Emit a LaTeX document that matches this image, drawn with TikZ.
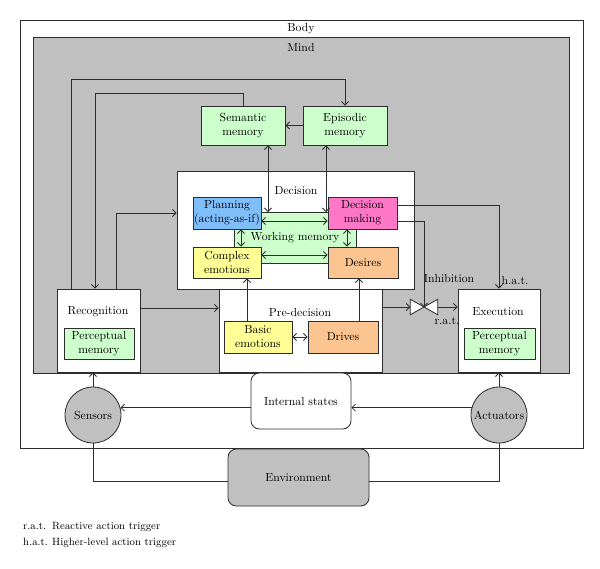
\documentclass[tikz,border=0pt]{standalone}
\usepackage{tikz}
\usetikzlibrary{arrows.meta,positioning,shapes,calc}
\definecolor{mindgray}{RGB}{192,192,192}
\definecolor{memgreen}{RGB}{204,255,204}
\definecolor{planblue}{RGB}{128,190,250}
\definecolor{makepink}{RGB}{255,120,200}
\definecolor{emoyellow}{RGB}{255,255,150}
\definecolor{driveorange}{RGB}{252,196,145}
\definecolor{edgegray}{RGB}{45,45,45}

\begin{document}
\begin{tikzpicture}[x=0.03cm, y=-0.03cm,
            >={Straight Barb[length=3pt,width=6pt]},
            box/.style={rectangle, draw=edgegray, line width=0.7pt, align=center, inner sep=1pt},
            mem/.style={box, fill=memgreen},
            wire/.style={draw=edgegray, line width=0.7pt}]
            \useasboundingbox (0,0) rectangle (600,568);
            \node[box, fill=white, minimum width=16.89cm, minimum height=12.84cm] (body) at (301.5,234) {};
            \node[box, fill=mindgray, minimum width=16.08cm, minimum height=10.08cm] (mind) at (301,205) {};
            \node (bodylbl) at (301,29) {Body};
            \node (mindlbl) at (301,48) {Mind};
            \node[mem, minimum width=2.52cm, minimum height=1.17cm] (semantic) at (243,125.5) {Semantic\\memory};
            \node[mem, minimum width=2.52cm, minimum height=1.17cm] (episodic) at (345,125.5) {Episodic\\memory};
            \node[box, fill=white, minimum width=7.11cm, minimum height=3.54cm] (decision) at (295.5,230) {};
            \node (decisionlbl) at (296,191) {Decision};
            \node[mem, minimum width=3.66cm, minimum height=1.53cm] (wm) at (295,238) {Working memory};
            \node[box, fill=planblue, minimum width=2.04cm, minimum height=0.96cm] (planning) at (227,213) {Planning\\(acting-as-if)};
            \node[box, fill=makepink, minimum width=2.07cm, minimum height=0.96cm] (decmaking) at (362.5,213) {Decision\\making};
            \node[box, fill=emoyellow, minimum width=2.04cm, minimum height=0.93cm] (complex) at (227,262.5) {Complex\\emotions};
            \node[box, fill=driveorange, minimum width=2.1cm, minimum height=0.93cm] (desires) at (363,262.5) {Desires};
            \node[box, fill=white, minimum width=4.89cm, minimum height=2.49cm] (predecision) at (300.5,330.5) {};
            \node (predecisionlbl) at (300,312) {Pre-decision};
            \node[box, fill=emoyellow, minimum width=2.04cm, minimum height=0.96cm] (basic) at (258,337) {Basic\\emotions};
            \node[box, fill=driveorange, minimum width=2.1cm, minimum height=0.96cm] (drives) at (343,337) {Drives};
            \node[box, fill=white, minimum width=2.49cm, minimum height=2.49cm] (recognition) at (98.5,330.5) {};
            \node (recognitionlbl) at (98,312) {Recognition};
            \node[mem, minimum width=2.1cm, minimum height=0.93cm] (percrec) at (99,343.5) {Perceptual\\memory};
            \node[box, fill=white, minimum width=2.46cm, minimum height=2.49cm] (execution) at (499,330.5) {};
            \node (executionlbl) at (498,312) {Execution};
            \node[mem, minimum width=2.13cm, minimum height=0.93cm] (percexe) at (499.5,343.5) {Perceptual\\memory};
            \node[minimum width=0.81cm, minimum height=0.45cm, inner sep=0pt] (valve) at (424,307) {};
            \draw[wire, fill=white] (valve.north west) -- (valve.south east) -- (valve.north east) -- (valve.south west) -- cycle;
            \node (inhibitionlbl) at (449,278) {Inhibition};
            \node (hatlbl) at (515,280) {h.a.t.};
            \node (ratlbl) at (447,321) {r.a.t.};
            \node[box, fill=white, rounded corners=0.25cm, minimum width=3cm, minimum height=1.68cm] (internal) at (301,401) {Internal states};
            \node[circle, draw=edgegray, line width=0.7pt, fill=mindgray, minimum size=1.68cm, inner sep=0pt] (sensors) at (93,415) {Sensors};
            \node[circle, draw=edgegray, line width=0.7pt, fill=mindgray, minimum size=1.68cm, inner sep=0pt] (actuators) at (499,415) {Actuators};
            \node[box, fill=mindgray, rounded corners=0.25cm, minimum width=4.23cm, minimum height=1.71cm] (environment) at (298.5,477.5) {Environment};
            \draw[wire,->] (71,0 |- recognition.north) -- (71,79) -| (episodic.north);
            \draw[wire,->] (semantic.north) |- (95,93) -- (95,0 |- recognition.north);
            \draw[wire,->] (116,0 |- recognition.north) |- (decision.west |- 0,213);
            \draw[wire,->] (episodic.west) -- (semantic.east);
            \draw[wire,<->] (268,0 |- semantic.south) -- (268,0 |- wm.north);
            \draw[wire,<->] (326,0 |- episodic.south) -- (326,0 |- wm.north);
            \draw[wire,<->] (planning.east |- 0,221) -- (decmaking.west |- 0,221);
            \draw[wire,<->] (complex.east |- 0,255) -- (desires.west |- 0,255);
            \draw[wire,<->] (241,0 |- planning.south) -- (241,0 |- complex.north);
            \draw[wire,<->] (347,0 |- decmaking.south) -- (347,0 |- desires.north);
            \draw[wire,->] (recognition.east |- 0,308) -- (predecision.west |- 0,308);
            \draw[wire,->] (247,0 |- basic.north) -- (247,0 |- complex.south);
            \draw[wire,->] (359,0 |- drives.north) -- (359,0 |- desires.south);
            \draw[wire,<->] (basic.east) -- (drives.west);
            \draw[wire,->] (decmaking.east |- 0,205) -| (execution.north);
            \draw[wire,->] (decmaking.east |- 0,221) -| (valve.center);
            \draw[wire,->] (predecision.east |- valve) -- (valve.west);
            \draw[wire,->] (valve.east) -- (execution.west |- valve);
            \draw[wire,->] (sensors.north) -- (recognition.south -| sensors.north);
            \draw[wire,->] (actuators.north) -- (execution.south -| actuators.north);
            \draw[wire,->] (actuators.165) -- (internal.east |- actuators.165);
            \draw[wire,->] (internal.west |- sensors.15) -- (sensors.15);
            \draw[wire] (sensors.south) |- (environment.west |- 0,481);
            \draw[wire] (actuators.south) |- (environment.east |- 0,481);
            \node[anchor=base west, inner sep=0pt, font=\small] (ratkey) at (23,529) {r.a.t.};
            \node[anchor=base west, inner sep=0pt, font=\small] (ratdesc) at (52,529) {Reactive action trigger};
            \node[anchor=base west, inner sep=0pt, font=\small] (hatkey) at (23,545) {h.a.t.};
            \node[anchor=base west, inner sep=0pt, font=\small] (hatdesc) at (52,545) {Higher-level action trigger};
        \end{tikzpicture}
\end{document}
